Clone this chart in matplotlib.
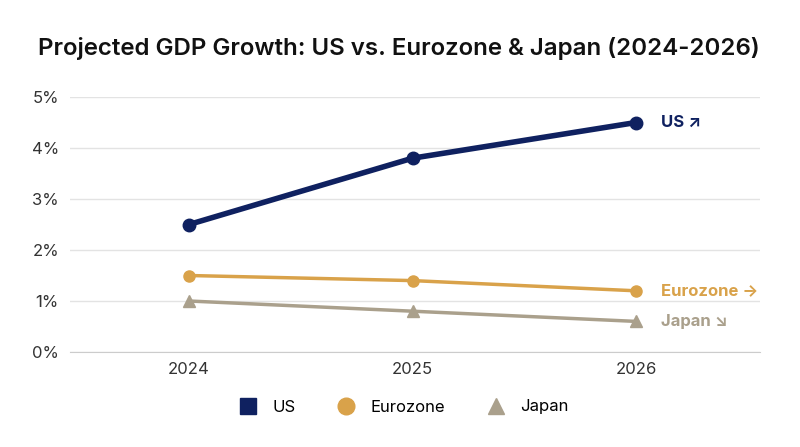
import matplotlib
matplotlib.use("Agg")
import matplotlib.pyplot as plt
from matplotlib.lines import Line2D

plt.rcParams['font.family'] = ['Inter', 'DejaVu Sans']

years = [2024, 2025, 2026]
us = [2.5, 3.8, 4.5]
euro = [1.5, 1.4, 1.2]
japan = [1.0, 0.8, 0.6]
yticks = [0, 1, 2, 3, 4, 5]
c_us, c_eu, c_jp = '#0f2160', '#d9a24a', '#aaa08c'

fig = plt.figure(figsize=(8, 4.47), dpi=100)
ax = fig.add_axes([70/800, 1-352/447, 690/800, 255/447])
ax.plot(years, us, color=c_us, lw=4, marker='o', ms=9, zorder=3)
ax.plot(years, euro, color=c_eu, lw=2.5, marker='o', ms=8, zorder=3)
ax.plot(years, japan, color=c_jp, lw=2.5, marker='^', ms=9, zorder=3)
ax.set_xlim(2024 - 119/223.5, 2026 + 124/223.5)
ax.set_ylim(0, 5)
ax.set_yticks(yticks)
ax.set_yticklabels([f'{v}%' for v in yticks], fontsize=12, color='#333333')
ax.set_xticks(years)
ax.set_xticklabels([str(y) for y in years], fontsize=12, color='#333333')
ax.grid(axis='y', color='#e3e3e3', lw=1)
ax.tick_params(length=0, pad=8)
for s in ['top', 'right', 'left']:
    ax.spines[s].set_visible(False)
ax.spines['bottom'].set_color('#cccccc')
ax.tick_params(axis='x', pad=7)

ax.text(2026.11, us[-1], 'US ↗', color=c_us, fontsize=12, fontweight='bold', va='center')
ax.text(2026.11, euro[-1], 'Eurozone →', color=c_eu, fontsize=12, fontweight='bold', va='center')
ax.text(2026.11, japan[-1], 'Japan ↘', color=c_jp, fontsize=12, fontweight='bold', va='center')

fig.text(38/800, 1-48/447, 'Projected GDP Growth: US vs. Eurozone & Japan (2024-2026)',
         fontsize=17.3, fontweight='semibold', color='#111111', va='center')

handles = [Line2D([], [], ls='', marker='s', ms=11, color=c_us),
           Line2D([], [], ls='', marker='o', ms=12, color=c_eu),
           Line2D([], [], ls='', marker='^', ms=12, color=c_jp)]
fig.legend(handles, ['US', 'Eurozone', 'Japan'], loc='center', bbox_to_anchor=(0.5, 1-407/447),
           ncol=3, frameon=False, fontsize=12, handletextpad=0.5, columnspacing=2.0)

fig.savefig('out.png', dpi=100)
